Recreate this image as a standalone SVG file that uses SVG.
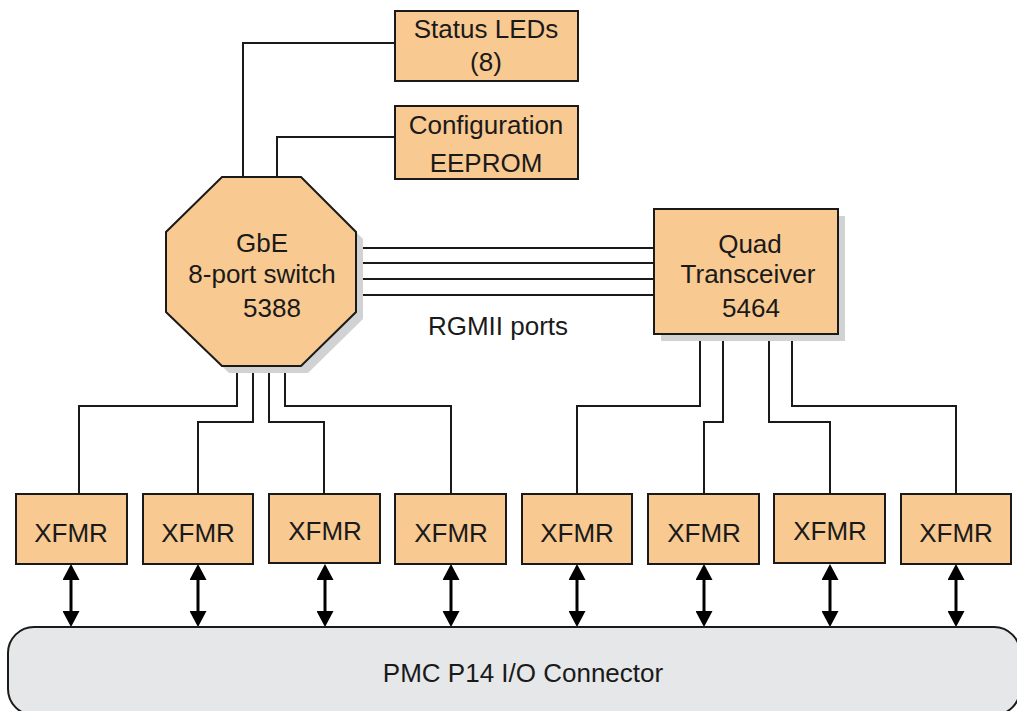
<svg xmlns="http://www.w3.org/2000/svg" width="1017" height="711" viewBox="0 0 1017 711">
<style>
.box{fill:#f8c990;stroke:#1a1a1a;stroke-width:2}
.shadow{fill:#d1d2d4}
.t{font-family:"Liberation Sans",Arial,sans-serif;font-size:26px;fill:#1a1a1a;text-anchor:middle}
.w{fill:none;stroke:#1a1a1a;stroke-width:2}
.arr{fill:none;stroke:#000;stroke-width:3}
</style>
<defs>
<marker id="ah" markerUnits="userSpaceOnUse" markerWidth="16" markerHeight="17" refX="0" refY="8.5" orient="auto-start-reverse" viewBox="0 0 16 17">
<path d="M0,0 L16,8.5 L0,17 Z" fill="#000"/>
</marker>
</defs>
<rect width="1017" height="711" fill="#fff"/>
<g id="connectors">
<polyline class="w" points="395,43 243,43 243,177"/>
<polyline class="w" points="395,137 277,137 277,177"/>
<line class="w" x1="356" y1="248" x2="654" y2="248"/>
<line class="w" x1="356" y1="263" x2="654" y2="263"/>
<line class="w" x1="356" y1="279" x2="654" y2="279"/>
<line class="w" x1="356" y1="295" x2="654" y2="295"/>
<polyline class="w" points="237,366 237,406 79,406 79,494"/>
<polyline class="w" points="253,366 253,422 198,422 198,494"/>
<polyline class="w" points="269,366 269,422 324,422 324,494"/>
<polyline class="w" points="285,366 285,406 451,406 451,494"/>
<polyline class="w" points="700,334 700,406 577,406 577,494"/>
<polyline class="w" points="723,334 723,422 704,422 704,494"/>
<polyline class="w" points="769,334 769,422 830,422 830,494"/>
<polyline class="w" points="792,334 792,406 956,406 956,494"/>
<line class="arr" x1="71" y1="580" x2="71" y2="611" marker-start="url(#ah)" marker-end="url(#ah)"/>
<line class="arr" x1="198" y1="580" x2="198" y2="611" marker-start="url(#ah)" marker-end="url(#ah)"/>
<line class="arr" x1="325" y1="580" x2="325" y2="611" marker-start="url(#ah)" marker-end="url(#ah)"/>
<line class="arr" x1="451" y1="580" x2="451" y2="611" marker-start="url(#ah)" marker-end="url(#ah)"/>
<line class="arr" x1="577" y1="580" x2="577" y2="611" marker-start="url(#ah)" marker-end="url(#ah)"/>
<line class="arr" x1="704" y1="580" x2="704" y2="611" marker-start="url(#ah)" marker-end="url(#ah)"/>
<line class="arr" x1="830" y1="580" x2="830" y2="611" marker-start="url(#ah)" marker-end="url(#ah)"/>
<line class="arr" x1="956" y1="580" x2="956" y2="611" marker-start="url(#ah)" marker-end="url(#ah)"/>
</g>
<text class="t" x="498" y="335">RGMII ports</text>
<g id="status-leds">
<rect class="box" x="395" y="11" width="183" height="70"/>
<text class="t" x="486" y="38">Status LEDs</text>
<text class="t" x="486" y="71">(8)</text>
</g>
<g id="config-eeprom">
<rect class="box" x="395" y="106" width="183" height="73"/>
<text class="t" x="486" y="134">Configuration</text>
<text class="t" x="486" y="172">EEPROM</text>
</g>
<g id="switch">
<polygon class="shadow" points="229,184 308,184 363,239 363,319 308,373 229,373 173,319 173,239"/>
<polygon class="box" points="222,177 301,177 356,232 356,312 301,366 222,366 166,312 166,232"/>
<text class="t" x="262" y="252">GbE</text>
<text class="t" x="262" y="283">8-port switch</text>
<text class="t" x="272" y="317">5388</text>
</g>
<g id="quad-transceiver">
<rect class="shadow" x="661" y="216" width="184" height="125"/>
<rect class="box" x="654" y="209" width="184" height="125"/>
<text class="t" x="750" y="253">Quad</text>
<text class="t" x="748" y="283">Transceiver</text>
<text class="t" x="751" y="317">5464</text>
</g>
<g id="xfmr1"><rect class="box" x="16" y="494" width="111" height="70"/><text class="t" x="71" y="542">XFMR</text></g>
<g id="xfmr2"><rect class="box" x="143" y="494" width="110" height="70"/><text class="t" x="198" y="542">XFMR</text></g>
<g id="xfmr3"><rect class="box" x="269" y="494" width="111" height="69"/><text class="t" x="325" y="540">XFMR</text></g>
<g id="xfmr4"><rect class="box" x="395" y="494" width="111" height="70"/><text class="t" x="451" y="542">XFMR</text></g>
<g id="xfmr5"><rect class="box" x="522" y="494" width="110" height="70"/><text class="t" x="577" y="542">XFMR</text></g>
<g id="xfmr6"><rect class="box" x="648" y="494" width="111" height="70"/><text class="t" x="704" y="542">XFMR</text></g>
<g id="xfmr7"><rect class="box" x="774" y="494" width="111" height="69"/><text class="t" x="830" y="540">XFMR</text></g>
<g id="xfmr8"><rect class="box" x="901" y="494" width="110" height="70"/><text class="t" x="956" y="542">XFMR</text></g>
<g id="pmc-connector">
<rect x="8" y="627" width="1012" height="88" rx="26" ry="26" fill="#e6e7e8" stroke="#1a1a1a" stroke-width="2"/>
<text class="t" x="523" y="682">PMC P14 I/O Connector</text>
</g>
</svg>
